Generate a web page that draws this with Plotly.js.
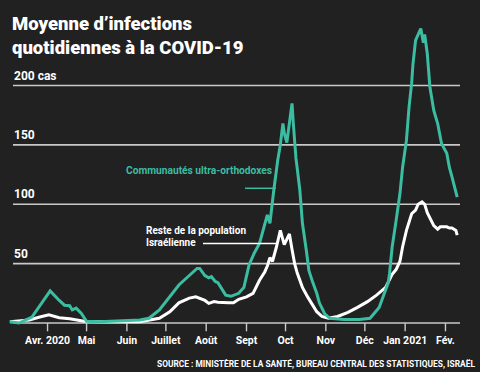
<!DOCTYPE html>
<html>
<head>
<meta charset="utf-8">
<script src="https://cdn.plot.ly/plotly-3.0.1.min.js"></script>
<style>
html,body{margin:0;padding:0;background:#212121;}
#chart{width:480px;height:372px;}
</style>
</head>
<body>
<div id="chart"></div>
<script>
const teal_dates = ["2020-03-03","2020-03-10","2020-03-20","2020-03-26","2020-04-03","2020-04-10","2020-04-14","2020-04-18","2020-04-20","2020-04-23","2020-04-27","2020-05-01","2020-05-11","2020-06-11","2020-06-18","2020-06-26","2020-07-04","2020-07-11","2020-07-19","2020-07-25","2020-07-27","2020-07-31","2020-08-03","2020-08-05","2020-08-08","2020-08-10","2020-08-16","2020-08-20","2020-08-26","2020-08-30","2020-09-03","2020-09-07","2020-09-11","2020-09-15","2020-09-17","2020-09-19","2020-09-20","2020-09-22","2020-09-25","2020-09-27","2020-09-29","2020-09-30","2020-10-02","2020-10-04","2020-10-06","2020-10-07","2020-10-09","2020-10-12","2020-10-14","2020-10-17","2020-10-19","2020-10-22","2020-10-25","2020-10-27","2020-10-31","2020-11-04","2020-11-15","2020-11-27","2020-12-05","2020-12-12","2020-12-16","2020-12-19","2020-12-20","2020-12-22","2020-12-25","2020-12-28","2020-12-30","2021-01-02","2021-01-04","2021-01-06","2021-01-07","2021-01-09","2021-01-13","2021-01-15","2021-01-16","2021-01-18","2021-01-20","2021-01-23","2021-01-26","2021-01-29","2021-02-02","2021-02-04","2021-02-06","2021-02-09","2021-02-10"];
const teal_values = [1,0,5,14,27,19,15,14.5,11,12.5,8,1.5,1,2.5,4,11,22,32,40,46,46,40,38,39,35,34,23.5,22.5,25,30,49,59,67,84,91,84,95,112,137,150,168,160,152,168,185,168,139,112,84,61,44,34,25,17,8,4,3,3,4,13,25,34,42,64,86,109,131,154,182,202,218,238,248,236,243,227,199,179,168,151,143,131,123,109,106];

const white_dates = ["2020-03-03","2020-03-18","2020-03-26","2020-04-02","2020-04-10","2020-04-18","2020-04-29","2020-05-11","2020-06-11","2020-06-26","2020-07-04","2020-07-11","2020-07-19","2020-07-24","2020-07-31","2020-08-03","2020-08-07","2020-08-10","2020-08-18","2020-08-22","2020-08-26","2020-09-01","2020-09-06","2020-09-11","2020-09-15","2020-09-17","2020-09-19","2020-09-21","2020-09-24","2020-09-27","2020-09-30","2020-10-02","2020-10-04","2020-10-06","2020-10-08","2020-10-10","2020-10-14","2020-10-18","2020-10-22","2020-10-25","2020-10-29","2020-11-03","2020-11-10","2020-11-18","2020-11-25","2020-12-03","2020-12-10","2020-12-17","2020-12-22","2020-12-25","2020-12-28","2020-12-30","2021-01-02","2021-01-04","2021-01-06","2021-01-09","2021-01-11","2021-01-14","2021-01-16","2021-01-18","2021-01-20","2021-01-23","2021-01-26","2021-01-28","2021-02-02","2021-02-04","2021-02-06","2021-02-09","2021-02-10"];
const white_values = [1,2.5,5,7,4.5,3.5,1.5,1,1,4,9.5,17,21,22,19,16.5,18,17.5,17,17,20,22,25,36,43,48,55,52,64,78,66,70,75,62,50,42,30,22,15,9.5,5.5,4,5.5,9,13,18,23.5,30,41,45,52,64,78,86,92,95,100,102,100,93,88,82,79,81,81,80,80,78,74];

const month_ticks = ["2020-04-01","2020-05-01","2020-06-01","2020-07-01","2020-08-01","2020-09-01","2020-10-01","2020-11-01","2020-12-01","2021-01-01","2021-02-01"];
const month_labels = ["Avr. 2020","Mai","Juin","Juillet","Août","Sept","Oct","Nov","Déc","Jan 2021","Fév."];

const y_ticks = [50,100,150,200];
const y_labels = ["50","100","150","200 cas"];

const TEAL = "#3bbda1";
const GRID = "#c9c9c9";
const W = 454, PT = 15, PH = 317;           // plot area geometry (px)
const gx0 = 5/W, gx1 = 452/W;
const py = p => (PT + PH - p) / PH;          // pixel row -> paper y
const BOLD = "Roboto, 'Open Sans', sans-serif";

const shapes = [0].concat(y_ticks).map(v => ({
  type:"line", xref:"paper", yref:"y", x0:gx0, x1:gx1, y0:v, y1:v,
  line:{color:GRID, width:1.6}, layer:"below"
}));
// month tick marks hanging below the baseline
month_ticks.forEach(d => shapes.push({
  type:"line", xref:"x", yref:"y", x0:d, x1:d, y0:0, y1:-7,
  line:{color:GRID, width:1.4}, layer:"below"
}));
// leader lines
shapes.push({type:"line", xref:"paper", yref:"paper", x0:(245-8)/W, x1:(276-8)/W, y0:py(188.3), y1:py(188.3), line:{color:TEAL, width:1.5}});
shapes.push({type:"line", xref:"paper", yref:"paper", x0:(203-8)/W, x1:(278-8)/W, y0:py(243.5), y1:py(243.5), line:{color:"#ffffff", width:1.5}});

// y value labels sitting on top of the gridlines
const yAnn = y_ticks.map((v, i) => ({
  text:y_labels[i], xref:"paper", yref:"y", x:(12-8)/W, y:v, xanchor:"left", yanchor:"bottom", yshift:1,
  showarrow:false, font:{family:BOLD, size:12, color:"#ffffff", weight:"bold"}
}));

const traces = [
  {x:white_dates, y:white_values, type:"scatter", mode:"lines", line:{color:"#ffffff", width:3}, hoverinfo:"skip"},
  {x:teal_dates, y:teal_values, type:"scatter", mode:"lines", line:{color:TEAL, width:3}, hoverinfo:"skip"}
];

const layout = {
  width:480, height:372,
  paper_bgcolor:"#212121", plot_bgcolor:"#212121",
  margin:{l:8, r:18, t:PT, b:372-PT-PH},
  showlegend:false,
  xaxis:{
    type:"date", range:["2020-03-01 14:00","2021-02-13 17:00"],
    tickmode:"array", tickvals:month_ticks, ticktext:month_labels, tickangle:0,
    ticks:"", showgrid:false, zeroline:false, showline:false,
    tickfont:{family:BOLD, size:10.5, color:"#ffffff", weight:"bold"}
  },
  yaxis:{
    range:[-7.58, 259.4],
    showticklabels:false, ticks:"", showgrid:false, zeroline:false, showline:false
  },
  shapes:shapes,
  annotations:yAnn.concat([
    {text:"Moyenne d’infections<br>quotidiennes à la COVID-19", xref:"paper", yref:"paper", x:2/W, y:py(36), xanchor:"left", yanchor:"middle", align:"left", showarrow:false,
     font:{family:BOLD, size:18.5, color:"#ffffff", weight:900}},
    {text:"Communautés ultra-orthodoxes", xref:"paper", yref:"paper", x:(124-8)/W, y:py(170.7), xanchor:"left", yanchor:"middle", showarrow:false,
     font:{family:BOLD, size:10.2, color:TEAL, weight:"bold"}},
    {text:"Reste de la population", xref:"paper", yref:"paper", x:(144-8)/W, y:py(230.7), xanchor:"left", yanchor:"middle", showarrow:false,
     font:{family:BOLD, size:10, color:"#ffffff", weight:"bold"}},
    {text:"Israélienne", xref:"paper", yref:"paper", x:(144-8)/W, y:py(242.3), xanchor:"left", yanchor:"middle", showarrow:false,
     font:{family:BOLD, size:10, color:"#ffffff", weight:"bold"}},
    {text:"SOURCE : MINISTÈRE DE LA SANTÉ, BUREAU CENTRAL DES STATISTIQUES, ISRAËL", xref:"paper", yref:"paper", x:(477-8)/W, y:py(363.3), xanchor:"right", yanchor:"middle", showarrow:false,
     font:{family:BOLD, size:8.4, color:"#ffffff", weight:"bold"}}
  ])
};

Plotly.newPlot("chart", traces, layout, {staticPlot:true, displayModeBar:false});
</script>
</body>
</html>
